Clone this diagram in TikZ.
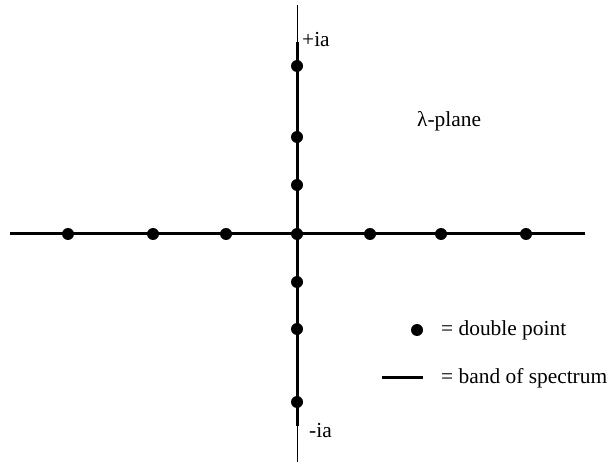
\documentclass[tikz,border=0pt]{standalone}
\usepackage{fontspec}
\setmainfont{Liberation Serif}
\begin{document}
\begin{tikzpicture}[x=1pt,y=-1pt,
  dot/.style={circle,fill=black,inner sep=0pt,minimum size=12pt},
  band/.style={line width=3pt},
  axis/.style={line width=1pt},
  lbl/.style={anchor=base west,inner sep=0pt,font=\fontsize{21.4}{25}\selectfont}]
\useasboundingbox (0,0) rectangle (610,462);
% axes
\coordinate (vtop) at (297,5);
\coordinate (vbot) at (297,462);
\coordinate (btop) at (297,42);
\coordinate (bbot) at (297,426);
\coordinate (hl) at (10,234);
\coordinate (hr) at (585,234);
\draw[axis] (vtop) -- (vbot);
\draw[band] (btop) -- (bbot);
\draw[band] (hl) -- (hr);
% dots
\foreach \x [count=\i] in {68,153,226,297,370,441,526}
  \node[dot] (h\i) at (\x,234) {};
\foreach \y [count=\i] in {66,137,185,282,329,402}
  \node[dot] (v\i) at (297,\y) {};
% labels
\node[lbl] (pia) at (302,47) {+ia};
\node[lbl] (mia) at (309,437) {-ia};
\node[lbl] (plane) at (417,127) {λ-plane};
% legend
\node[dot] (ldot) at (417,330) {};
\node[lbl] (ldt) at (441,335) {= double point};
\coordinate (la) at (382,377);
\coordinate (lb) at (423,377);
\draw[band] (la) -- (lb);
\node[lbl] (lbt) at (441,383) {= band of spectrum};
\end{tikzpicture}
\end{document}
